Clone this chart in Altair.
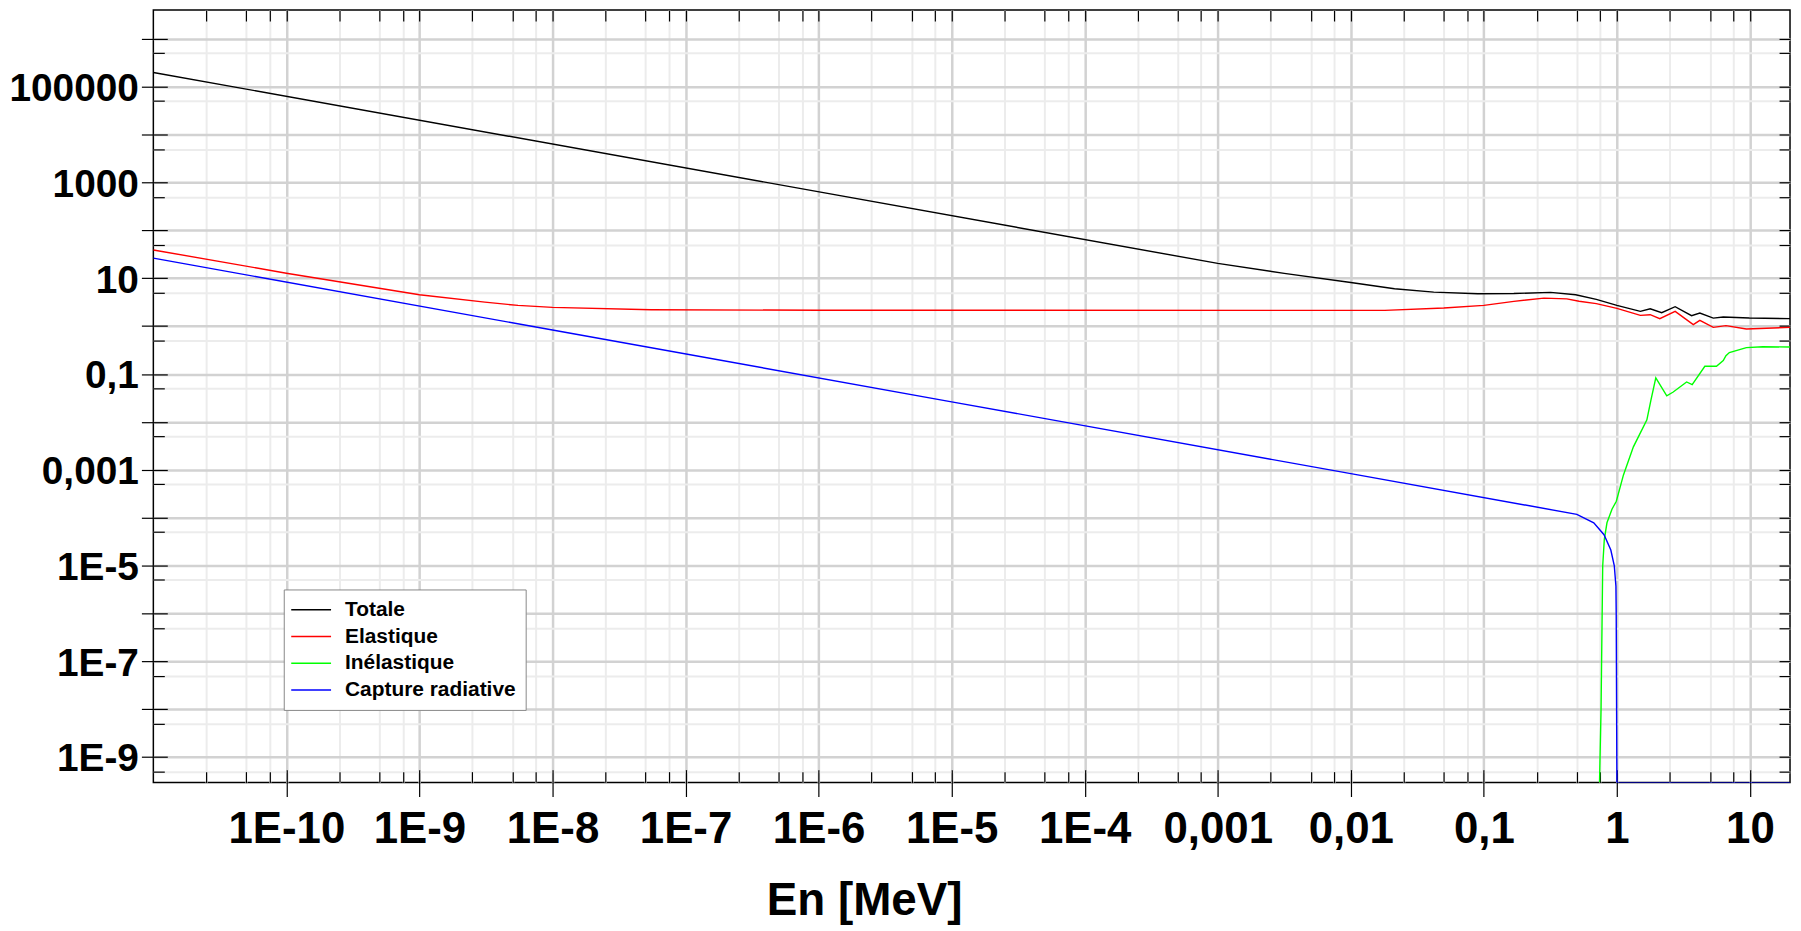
import json
import altair as alt
import pandas as pd

# ---------------- data ----------------
SERIES = ["Totale", "Elastique", "Inélastique", "Capture radiative"]
COLORS = ["#000000", "#ff0000", "#00ff00", "#0000ff"]

TOT_E = [1e-11, 1e-3, 3.16e-3, 0.01, 0.0213, 0.042, 0.09, 0.168, 0.317, 0.49, 0.7, 1.0,
         1.5, 1.78, 2.17, 2.74, 3.64, 4.2, 5.3, 6.3, 9.9, 20]
TOT_S = [1.98e5, 20.4, 12.6, 8.15, 6.03, 5.12, 4.74, 4.79, 5.05, 4.5, 3.6, 2.7,
         2.03, 2.3, 1.9, 2.54, 1.65, 1.87, 1.47, 1.55, 1.47, 1.43]

ELA_E = [1e-11, 1e-10, 1e-9, 3.1e-9, 5.5e-9, 1e-8, 5.5e-8, 1e-6, 0.018, 0.05, 0.1, 0.168,
         0.283, 0.42, 0.52, 0.7, 1.0, 1.5, 1.78, 2.1, 2.74, 3.75, 4.2, 5.3, 6.6, 9.4, 20]
ELA_S = [38.9, 12.7, 4.52, 3.16, 2.70, 2.46, 2.2, 2.14, 2.13, 2.38, 2.7, 3.28,
         3.84, 3.7, 3.3, 2.95, 2.35, 1.67, 1.73, 1.43, 2.03, 1.07, 1.32, 0.94, 1.02, 0.87, 0.94]

INEL_E = [0.74, 0.76, 0.782, 0.804, 0.842, 0.918, 0.99, 1.12, 1.33, 1.68, 1.80, 1.96,
          2.37, 2.65, 3.34, 3.68, 4.58, 5.6, 6.3, 6.6, 7.0, 9.4, 12.5, 20]
INEL_S = [1e-12, 1e-8, 9.8e-6, 3.5e-5, 7.8e-5, 1.5e-4, 2.2e-4, 7.8e-4, 3.0e-3, 1.1e-2, 2.8e-2, 8.3e-2,
          3.5e-2, 4.2e-2, 6.8e-2, 6.0e-2, 0.145, 0.145, 0.19, 0.24, 0.28, 0.355, 0.37, 0.365]

CAP_E = [1e-11, 1e-8, 1e-5, 1e-2, 0.5, 0.67, 0.80, 0.90, 0.956, 0.983, 0.988, 1.0, 20]
CAP_S = [26.2, 0.828, 0.0262, 8.28e-4, 1.17e-4, 7.8e-5, 4.4e-5, 2.1e-5, 9.8e-6, 3.7e-6, 1.0e-6, 1e-12, 1e-12]

X_LABELS = ["1E-10", "1E-9", "1E-8", "1E-7", "1E-6", "1E-5", "1E-4", "0,001", "0,01", "0,1", "1", "10"]
Y_LABELS = ["1E-9", "", "1E-7", "", "1E-5", "", "0,001", "", "0,1", "", "10", "", "1000", "", "100000", ""]

X_MAJOR = [10.0 ** k for k in range(-10, 2)]
X_MINOR = [m * 10.0 ** k for k in range(-11, 2) for m in (2.5, 5, 7.5) if m * 10.0 ** k <= 20]
Y_MAJOR = [10.0 ** k for k in range(-9, 7)]
Y_MINOR = [5 * 10.0 ** k for k in range(-10, 6)]

frames = []
for name, es, ss in zip(SERIES, [TOT_E, ELA_E, INEL_E, CAP_E], [TOT_S, ELA_S, INEL_S, CAP_S]):
    frames.append(pd.DataFrame({"serie": name, "E": es, "sigma": ss}))
df = pd.concat(frames, ignore_index=True)

# ---------------- layout ----------------
W, H = 1644, 776
X_DOMAIN = [1e-11, 20]
Y_DOMAIN = [10 ** -9.534, 10 ** 6.60]

SANS = "'Liberation Sans', Arial"
MAJOR_GRID = "#d2d2d2"
MINOR_GRID = "#ececec"


def xs():
    return alt.Scale(type="log", domain=X_DOMAIN, nice=False, clamp=True)


def ys():
    return alt.Scale(type="log", domain=Y_DOMAIN, nice=False, clamp=True)


x_label_expr = f"{json.dumps(X_LABELS)}[round(log(datum.value)/LN10) + 10]"
y_label_expr = f"{json.dumps(Y_LABELS)}[round(log(datum.value)/LN10) + 9]"


def tick_axis(orient, values, offset, size, grid=False, grid_color=MINOR_GRID, grid_w=2, ticks=True):
    kw = dict(orient=orient, values=values, offset=offset, tickSize=size, tickColor="#000000",
              tickWidth=1.2, labels=False, domain=False, title=None, grid=grid, ticks=ticks)
    if grid:
        kw.update(gridColor=grid_color, gridWidth=grid_w)
    return alt.Axis(**kw)


x_main = alt.Axis(
    orient="bottom", values=X_MAJOR, tickSize=14, tickColor="#000000", tickWidth=1.2, domain=False,
    labelExpr=x_label_expr, labelFont=SANS, labelFontWeight="bold", labelFontSize=44,
    labelColor="#000000", labelPadding=11, labelOverlap=False, labelFlush=False,
    title="En [MeV]", titleFont=SANS, titleFontSize=46, titleFontWeight="bold", titleColor="#000000",
    titleX=714, titleY=133, titleAlign="center", titleBaseline="alphabetic",
    grid=True, gridColor=MAJOR_GRID, gridWidth=2.5)

y_main = alt.Axis(
    orient="left", values=Y_MAJOR, tickSize=12, tickColor="#000000", tickWidth=1.2, domain=False,
    labelExpr=y_label_expr, labelFont=SANS, labelFontWeight="bold", labelFontSize=39,
    labelColor="#000000", labelPadding=3, labelOffset=2, labelOverlap=False, labelFlush=False,
    labelLimit=400, title=None, grid=True, gridColor=MAJOR_GRID, gridWidth=2.5)

lines = alt.Chart(df).mark_line(strokeWidth=1.4, clip=True).encode(
    x=alt.X("E:Q", scale=xs(), axis=x_main),
    y=alt.Y("sigma:Q", scale=ys(), axis=y_main),
    color=alt.Color(
        "serie:N", sort=SERIES, scale=alt.Scale(domain=SERIES, range=COLORS),
        legend=alt.Legend(
            orient="none", legendX=131, legendY=582, title=None,
            fillColor="#ffffff", strokeColor="#888888", padding=9.5, cornerRadius=0,
            symbolType="M-1.3,0H2.7", symbolSize=400, symbolStrokeWidth=1.5,
            labelFont=SANS, labelFontWeight="bold", labelFontSize=21, labelColor="#000000",
            labelOffset=30, rowPadding=5.8, labelLimit=400)),
)


def ghost(xaxis, yaxis):
    return alt.Chart(df).mark_point(opacity=0, size=1).encode(
        x=alt.X("E:Q", scale=xs(), axis=xaxis),
        y=alt.Y("sigma:Q", scale=ys(), axis=yaxis),
    )


minor_grid = ghost(tick_axis("bottom", X_MINOR, 0, 0, grid=True, ticks=False),
                   tick_axis("left", Y_MINOR, 0, 0, grid=True, ticks=False))
major_in = ghost(tick_axis("bottom", X_MAJOR, -13, 13), tick_axis("left", Y_MAJOR, -14, 14))
minor_in = ghost(tick_axis("bottom", X_MINOR, -11, 11), tick_axis("left", Y_MINOR, -11, 11))
mirror = ghost(tick_axis("top", X_MAJOR + X_MINOR, -11, 11), tick_axis("right", Y_MAJOR + Y_MINOR, -11, 11))

chart = alt.layer(minor_grid, lines, major_in, minor_in, mirror).resolve_axis(
    x="independent", y="independent"
).properties(
    width=W, height=H,
    autosize=alt.AutoSizeParams(type="none"),
    padding={"left": 146, "top": 0, "right": 3, "bottom": 146},
    background="#ffffff",
).configure_view(stroke="#000000", strokeWidth=1.5)

chart.save("out.html", embed_options={"renderer": "svg", "actions": False})
